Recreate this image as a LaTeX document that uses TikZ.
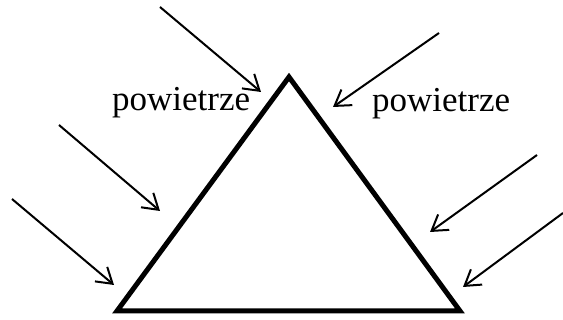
\documentclass[tikz,border=0pt]{standalone}
\usepackage{fontspec}
\setmainfont{Liberation Serif}
\usetikzlibrary{arrows.meta}
\begin{document}
\begin{tikzpicture}[x=1pt,y=-1pt,>={Straight Barb[length=15pt,width=19pt]}]
		\useasboundingbox (0,0) rectangle (563,320);
		\tikzset{wind/.style={->,line width=2pt},
			label/.style={font=\fontsize{35}{40}\selectfont,inner sep=0pt,anchor=base west}}
		\coordinate (A) at (117,311);
		\coordinate (B) at (460,311);
		\coordinate (C) at (289,77);
		\draw[line width=5pt] (A)--(B)--(C)--cycle;
		% wind from the left
		\coordinate (s1) at (160,7);   \coordinate (e1) at (261,92);
		\coordinate (s2) at (59,125);  \coordinate (e2) at (160,211);
		\coordinate (s3) at (12,199);  \coordinate (e3) at (114,285);
		\draw[wind] (s1)--(e1);
		\draw[wind] (s2)--(e2);
		\draw[wind] (s3)--(e3);
		% wind from the right
		\coordinate (s4) at (439,33);  \coordinate (e4) at (333,107);
		\coordinate (s5) at (537,155); \coordinate (e5) at (430,232);
		\coordinate (s6) at (563,213); \coordinate (e6) at (463,287);
		\draw[wind] (s4)--(e4);
		\draw[wind] (s5)--(e5);
		\draw[wind] (s6)--(e6);
		\node[label] (L) at (112,111) {powietrze};
		\node[label] (R) at (372,112) {powietrze};
		\end{tikzpicture}
\end{document}
